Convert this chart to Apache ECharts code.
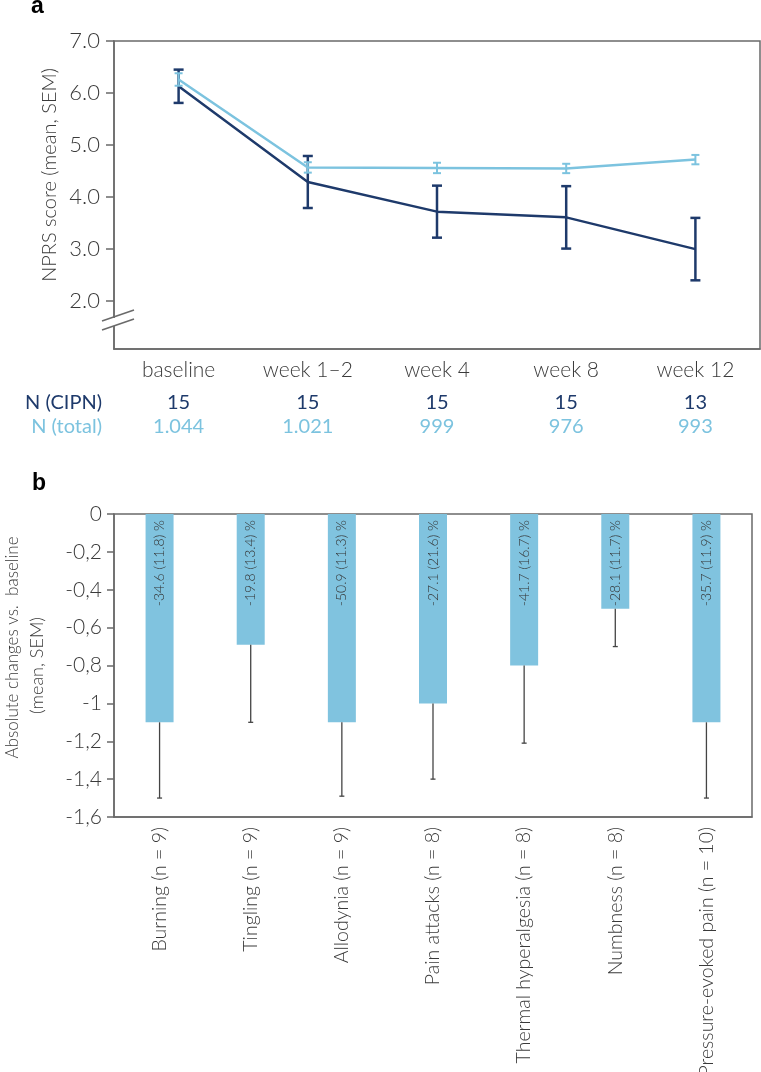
<!DOCTYPE html>
<html>
<head>
<meta charset="utf-8">
<script src="https://cdn.jsdelivr.net/npm/echarts@6/dist/echarts.min.js"></script>
<style>
html, body { margin: 0; padding: 0; background: #fff; }
#main { width: 761px; height: 1072px; }
</style>
</head>
<body>
<div id="main"></div>
<script>
// panel a: NPRS score over time
var weeks = ['baseline', 'week 1–2', 'week 4', 'week 8', 'week 12'];
var cipnMean = [6.13, 4.29, 3.72, 3.61, 3.0];
var cipnSem = [0.32, 0.5, 0.5, 0.6, 0.6];
var totalMean = [6.26, 4.57, 4.56, 4.55, 4.72];
var totalSem = [0.12, 0.1, 0.1, 0.09, 0.09];
var nCipn = ['15', '15', '15', '15', '13'];
var nTotal = ['1.044', '1.021', '999', '976', '993'];
var scoreTicks = [2, 3, 4, 5, 6, 7];

// panel b: symptom changes vs. baseline
var symptoms = ['Burning (n = 9)', 'Tingling (n = 9)', 'Allodynia (n = 9)', 'Pain attacks (n = 8)',
    'Thermal hyperalgesia (n = 8)', 'Numbness (n = 8)', 'Pressure-evoked pain (n = 10)'];
var changeMean = [-1.1, -0.69, -1.1, -1.0, -0.8, -0.5, -1.1];
var changeSem = [0.4, 0.41, 0.39, 0.4, 0.41, 0.2, 0.4];
var pctLabels = ['-34.6 (11.8) %', '-19.8 (13.4) %', '-50.9 (11.3) %', '-27.1 (21.6) %',
    '-41.7 (16.7) %', '-28.1 (11.7) %', '-35.7 (11.9) %'];

var DARK = '#1e3a6b';
var LIGHT = '#7cc3df';
var AXIS = '#6a6a6a';
var TEXT = '#3a3a3a';
var FONT = 'Lato';

function errorBars(capW, color, lw, both) {
    return function (params, api) {
        var x = api.value(0);
        var a = api.coord([x, api.value(1)]);
        var b = api.coord([x, api.value(2)]);
        var st = { stroke: color, lineWidth: lw };
        var kids = [
            { type: 'line', shape: { x1: a[0], y1: a[1], x2: b[0], y2: b[1] }, style: st },
            { type: 'line', shape: { x1: b[0] - capW / 2, y1: b[1], x2: b[0] + capW / 2, y2: b[1] }, style: st }
        ];
        if (both) {
            kids.push({ type: 'line', shape: { x1: a[0] - capW / 2, y1: a[1], x2: a[0] + capW / 2, y2: a[1] }, style: st });
        }
        return { type: 'group', children: kids };
    };
}

var cipnErr = cipnMean.map(function (m, i) { return [i, m - cipnSem[i], m + cipnSem[i]]; });
var totalErr = totalMean.map(function (m, i) { return [i, m - totalSem[i], m + totalSem[i]]; });
var changeErr = changeMean.map(function (m, i) { return [i, m, m - changeSem[i]]; });

var chart = echarts.init(document.getElementById('main'));

chart.setOption({
    animation: false,
    textStyle: { fontFamily: FONT },
    title: [
        { text: 'a', left: 31, top: -5, padding: 0, textStyle: { fontFamily: 'Liberation Sans', fontSize: 23, fontWeight: 'bold', color: '#000' } },
        { text: 'b', left: 32, top: 472, padding: 0, textStyle: { fontFamily: 'Liberation Sans', fontSize: 23, fontWeight: 'bold', color: '#000' } }
    ],
    grid: [
        { left: 114, top: 41, width: 646, height: 308, show: true, borderColor: AXIS, borderWidth: 1.5, outerBoundsMode: 'none' },
        { left: 114, top: 514, width: 638, height: 303, show: true, borderColor: AXIS, borderWidth: 1.5, outerBoundsMode: 'none' }
    ],
    xAxis: [
        {
            type: 'category', gridIndex: 0, data: weeks, boundaryGap: true,
            axisLine: { onZero: false, lineStyle: { color: AXIS, width: 1.5 } },
            axisTick: { alignWithLabel: true, length: 7, lineStyle: { color: AXIS, width: 1.5 } },
            axisLabel: { margin: 11, fontSize: 21, fontWeight: 300, color: TEXT }
        },
        {
            type: 'category', gridIndex: 0, data: nCipn, position: 'bottom', offset: 54,
            axisLine: { show: false }, axisTick: { show: false },
            axisLabel: { margin: 0, verticalAlign: 'middle', fontSize: 20, color: DARK },
            name: 'N (CIPN)', nameLocation: 'start', nameGap: 12, nameMoveOverlap: false,
            nameTextStyle: { fontSize: 20, color: DARK }
        },
        {
            type: 'category', gridIndex: 0, data: nTotal, position: 'bottom', offset: 78,
            axisLine: { show: false }, axisTick: { show: false },
            axisLabel: { margin: 0, verticalAlign: 'middle', fontSize: 20, color: LIGHT },
            name: 'N (total)', nameLocation: 'start', nameGap: 12, nameMoveOverlap: false,
            nameTextStyle: { fontSize: 20, color: LIGHT }
        },
        {
            type: 'category', gridIndex: 1, data: symptoms, boundaryGap: true,
            axisLine: { onZero: false, lineStyle: { color: AXIS, width: 1.5 } },
            axisTick: { show: false },
            axisLabel: { rotate: 90, margin: 10, fontSize: 19.5, fontWeight: 300, color: TEXT, interval: 0 }
        }
    ],
    yAxis: [
        {
            type: 'value', gridIndex: 0, min: 1.08, max: 7,
            name: 'NPRS score (mean, SEM)', nameLocation: 'middle', nameGap: 54, nameRotate: 90, nameMoveOverlap: false,
            nameTextStyle: { fontSize: 20, fontWeight: 300, color: TEXT, padding: [0, 0, 0, 40] },
            axisLine: { show: true, onZero: false, lineStyle: { color: AXIS, width: 1.5 } },
            axisTick: { show: true, length: 8, customValues: scoreTicks, lineStyle: { color: AXIS, width: 1.5 } },
            axisLabel: {
                margin: 14, fontSize: 22, fontWeight: 300, color: TEXT, customValues: scoreTicks,
                formatter: function (v) { return v.toFixed(1); }
            },
            splitLine: { show: false }
        },
        {
            type: 'value', gridIndex: 1, min: -1.6, max: 0, interval: 0.2,
            name: '{l1|Absolute changes vs.  baseline}\n{l2|(mean, SEM)}', nameLocation: 'middle', nameGap: 64, nameRotate: 90,
            nameMoveOverlap: false,
            nameTextStyle: {
                fontSize: 18, fontWeight: 300, color: TEXT, lineHeight: 25,
                rich: {
                    l1: { fontSize: 17, fontWeight: 300, color: TEXT, lineHeight: 25, padding: [0, 0, 0, 36] },
                    l2: { fontSize: 18, fontWeight: 300, color: TEXT, lineHeight: 25 }
                }
            },
            axisLine: { show: true, onZero: false, lineStyle: { color: AXIS, width: 1.5 } },
            axisTick: { show: true, length: 7, lineStyle: { color: AXIS, width: 1.5 } },
            axisLabel: {
                margin: 12, fontSize: 21, fontWeight: 300, color: TEXT,
                formatter: function (v) {
                    return v === 0 ? '0' : String(+v.toFixed(1)).replace('.', ',');
                }
            },
            splitLine: { show: false }
        }
    ],
    series: [
        {
            name: 'CIPN', type: 'line', xAxisIndex: 0, yAxisIndex: 0, data: cipnMean,
            symbol: 'none', lineStyle: { color: DARK, width: 2.5 }, z: 3
        },
        {
            type: 'custom', xAxisIndex: 0, yAxisIndex: 0, data: cipnErr,
            renderItem: errorBars(10, DARK, 2.5, true), z: 3
        },
        {
            name: 'total', type: 'line', xAxisIndex: 0, yAxisIndex: 0, data: totalMean,
            symbol: 'none', lineStyle: { color: LIGHT, width: 2.5 }, z: 4
        },
        {
            type: 'custom', xAxisIndex: 0, yAxisIndex: 0, data: totalErr,
            renderItem: errorBars(8, LIGHT, 2, true), z: 4
        },
        {
            type: 'bar', xAxisIndex: 3, yAxisIndex: 1, data: changeMean, barWidth: 28,
            itemStyle: { color: '#80c3df' },
            label: {
                show: true, position: ['50%', 6], rotate: 90, align: 'right', verticalAlign: 'middle',
                fontSize: 14, fontWeight: 300, color: '#333',
                formatter: function (p) { return pctLabels[p.dataIndex]; }
            }
        },
        {
            type: 'custom', xAxisIndex: 3, yAxisIndex: 1, data: changeErr,
            renderItem: errorBars(5, '#444', 1.3, false), z: 3
        }
    ]
});

// axis break marks on the NPRS axis
var by = chart.convertToPixel({ yAxisIndex: 0 }, 1.6);
var bx = 114;
chart.setOption({
    graphic: [
        { type: 'rect', shape: { x: bx - 3, y: by - 4, width: 6, height: 8 }, style: { fill: '#fff' }, z: 100 },
        { type: 'line', shape: { x1: bx - 12, y1: by - 1, x2: bx + 20, y2: by - 12 }, style: { stroke: AXIS, lineWidth: 1.5 }, z: 101 },
        { type: 'line', shape: { x1: bx - 12, y1: by + 8, x2: bx + 20, y2: by - 3 }, style: { stroke: AXIS, lineWidth: 1.5 }, z: 101 }
    ]
});
</script>
</body>
</html>
